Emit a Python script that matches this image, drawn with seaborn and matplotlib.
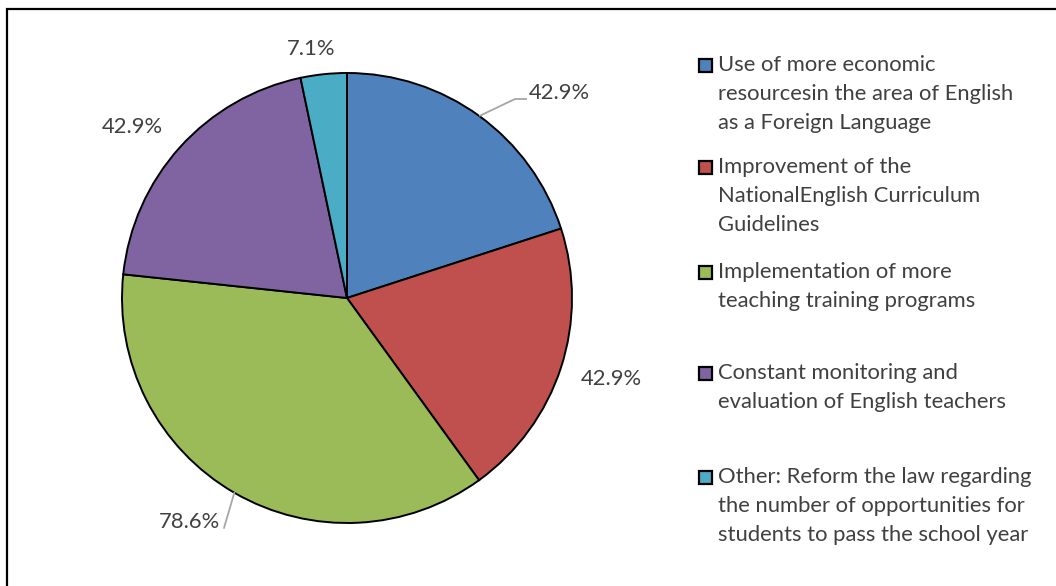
import matplotlib
matplotlib.use("Agg")
import matplotlib.pyplot as plt
from matplotlib.patches import Rectangle
import numpy as np
import seaborn as sns

# Survey answers: share of respondents choosing each improvement (%)
categories = [
    "Use of more economic\nresourcesin the area of English\nas a Foreign Language",
    "Improvement of the\nNationalEnglish Curriculum\nGuidelines",
    "Implementation of more\nteaching training programs",
    "Constant monitoring and\nevaluation of English teachers",
    "Other: Reform the law regarding\nthe number of opportunities for\nstudents to pass the school year",
]
values = [42.9, 42.9, 78.6, 42.9, 7.1]
value_labels = ["42.9%", "42.9%", "78.6%", "42.9%", "7.1%"]
colors = ["#4F81BD", "#C0504D", "#9BBB59", "#8064A2", "#4BACC6"]

sns.set_theme(style="white")
plt.rcParams["font.family"] = ["Lato", "DejaVu Sans"]
TEXT = "#404040"

W, H = 1056, 586
fig = plt.figure(figsize=(W / 100, H / 100), dpi=100)

# pie axes: centre at (347, 298) px, radius 225 px
cx, cy, R = 347, 298, 225
half = 600
ax = fig.add_axes([(cx - half / 2) / W, (H - cy - half / 2) / H, half / W, half / H])
lim = half / 2 / R

wedges, _ = ax.pie(values, colors=colors, startangle=90, counterclock=False,
                   radius=1.0, wedgeprops=dict(edgecolor="black", linewidth=1.4))
ax.set_xlim(-lim, lim)
ax.set_ylim(-lim, lim)
ax.set_aspect("equal")
ax.axis("off")

# label centres, in units of the radius
label_pos = [(0.944, 0.911), (1.173, -0.358), (-0.700, -0.996), (-0.956, 0.760), (-0.160, 1.107)]
for w, txt, (lx, ly) in zip(wedges, value_labels, label_pos):
    ax.text(lx, ly, txt, ha="center", va="center", fontsize=15.8, color=TEXT)

# leader lines for the labels that sit away from their slices
def edge_point(w):
    mid = np.deg2rad((w.theta1 + w.theta2) / 2)
    return np.cos(mid), np.sin(mid)

ex, ey = edge_point(wedges[0])
ax.plot([ex, (515 - cx) / R, (527 - cx) / R], [ey, (cy - 99) / R, (cy - 99) / R],
        color="#A6A6A6", lw=1.3, solid_capstyle="butt")
ex, ey = edge_point(wedges[2])
ax.plot([ex, (224 - cx) / R], [ey, (cy - 528) / R], color="#A6A6A6", lw=1.3)

# legend drawn beside the pie
entry_y = [65, 167, 272, 373, 477]
line_h = 29.2
for lab, col, y0 in zip(categories, colors, entry_y):
    fig.patches.append(Rectangle((699 / W, 1 - (y0 + 6.5) / H), 13 / W, 13 / H,
                                 transform=fig.transFigure, facecolor=col,
                                 edgecolor="black", linewidth=1.6))
    for i, line in enumerate(lab.split("\n")):
        fig.text(718 / W, 1 - (y0 + i * line_h) / H, line, ha="left", va="center",
                 fontsize=15.8, color=TEXT)

# frame around the chart area
fig.patches.append(Rectangle((7 / W, -0.1), 1.2, 1.1 - 8.5 / H, transform=fig.transFigure,
                             fill=False, edgecolor="black", linewidth=1.6))

fig.savefig("out.png", dpi=100)
